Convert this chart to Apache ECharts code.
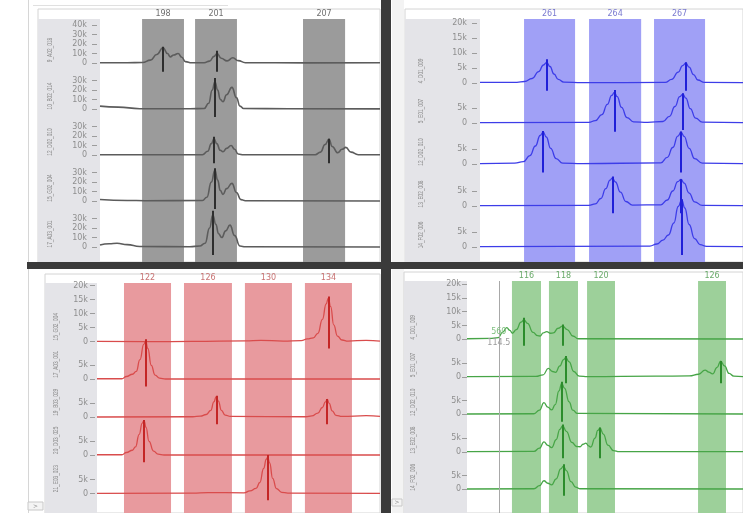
<!DOCTYPE html>
<html><head><meta charset="utf-8">
<script src="https://cdn.jsdelivr.net/npm/echarts@6/dist/echarts.min.js"></script>
<style>html,body{margin:0;padding:0;background:#fff}#c{width:743px;height:513px}</style>
</head><body><div id="c"></div>
<script>
// ---------------- DATA (size in bp, height in k RFU) ----------------
// Top-left panel (gray)
const tlBins = [198, 201, 207];
const tlBinStart = [196.83, 199.79, 205.82];
const tlBinEnd = [199.17, 202.13, 208.17];
const tlSamples = ['9_A02_018', '10_B02_014', '12_D02_010', '15_G02_004', '17_A03_001'];
const tlTicks = [[0,10,20,30,40],[0,10,20,30],[0,10,20,30],[0,10,20,30],[0,10,20,30]];
const tlTrace1 = [[194.48,0.3],[196.0,0.2],[196.85,0.5],[197.3,3],[197.65,9],[198.0,16],[198.25,10],[198.4,6.5],[198.6,8.5],[198.84,10],[199.05,6],[199.25,1.5],[199.6,0.2],[200.3,0.3],[200.6,2],[200.85,7],[201.02,10],[201.25,5],[201.58,2.2],[201.9,5.5],[202.2,2.5],[202.6,0.3],[206,0.1],[210.12,0.2]];
const tlTrace2 = [[194.48,3],[195.5,2],[196.7,0.3],[199.5,0.2],[200.3,0.5],[200.55,6],[200.75,20],[200.9,28.7],[201.05,20],[201.2,10],[201.35,7.7],[201.55,15],[201.85,22.8],[202.1,12],[202.3,3],[202.5,0.5],[205,0.3],[210.12,0.1]];
const tlTrace3 = [[194.48,0.2],[200.2,0.3],[200.5,4],[200.7,12],[200.85,17],[201.0,12],[201.2,5],[201.35,3.5],[201.55,7],[201.8,10],[202.0,6],[202.2,1],[202.5,0.2],[206.5,0.3],[206.8,3],[207.05,11],[207.27,16.5],[207.45,9],[207.76,2.4],[208.0,6],[208.21,8],[208.5,3],[208.9,0.3],[210.12,0.2]];
const tlTrace4 = [[194.48,1.5],[196,0.6],[197,0.3],[200.2,0.5],[200.45,4],[200.7,20],[200.9,32.6],[201.05,22],[201.2,11],[201.35,7],[201.55,13],[201.85,18.6],[202.1,9],[202.35,1.5],[202.6,0.3],[210.12,0]];
const tlTrace5 = [[194.48,2],[195.0,3.5],[195.43,4],[196.0,2.5],[196.7,0.5],[199.5,0.3],[200.05,1],[200.35,4],[200.6,20],[200.78,33.7],[200.95,24],[201.1,14],[201.28,10],[201.5,17],[201.74,23],[202.0,12],[202.3,1],[202.6,0.2],[210.12,0]];
// allele call markers: [size, top, bottom]
const tlCalls1 = [[198.0,17.2,-9.2],[201.02,13,-9.2]];
const tlCalls2 = [[200.9,32.6,-8.4]];
const tlCalls3 = [[200.85,19.3,-8.8],[207.27,17.2,-8.8]];
const tlCalls4 = [[200.9,34.4,-8.4]];
const tlCalls5 = [[200.78,38.2,-8.4]];

// Top-right panel (blue)
const trBins = [261, 264, 267];
const trBinStart = [259.83, 262.81, 265.79];
const trBinEnd = [262.17, 265.2, 268.13];
const trSamples = ['4_D01_009', '5_E01_007', '12_D02_010', '13_E02_008', '14_F02_006'];
const trTicks = [[0,5,10,15,20],[0,5],[0,5],[0,5],[0,5]];
const trTrace1 = [[257.81,0.2],[259.5,0.2],[259.85,0.5],[260.2,1.5],[260.5,3.8],[260.72,6],[260.87,6.9],[261.02,5.5],[261.2,3],[261.4,1.2],[261.65,0.3],[262.5,0.1],[266.3,0.2],[266.6,1.2],[266.9,3.6],[267.1,5.8],[267.25,6.6],[267.4,5.3],[267.6,2.8],[267.8,1],[268.1,0.2],[269.87,0.1]];
const trTrace2 = [[257.81,0.1],[262.8,0.2],[263.1,0.8],[263.4,2.8],[263.65,6.2],[263.85,9.2],[263.97,10.2],[264.1,8.8],[264.3,5.2],[264.55,1.8],[264.85,0.4],[265.5,0.2],[266.2,0.5],[266.5,2.2],[266.75,5.5],[266.97,8.8],[267.11,9.6],[267.25,8.3],[267.45,4.8],[267.7,1.6],[268.0,0.3],[269.87,0.1]];
const trTrace3 = [[257.81,0.1],[259.4,0.3],[259.8,0.8],[260.1,2.8],[260.35,6],[260.57,9.5],[260.71,10.6],[260.85,9],[261.05,5.2],[261.3,1.8],[261.6,0.3],[262.5,0.1],[266.1,0.4],[266.4,2.2],[266.65,5.5],[266.88,9.3],[267.03,10.6],[267.17,9.2],[267.4,5.2],[267.65,1.8],[268.0,0.3],[269.87,0.1]];
const trTrace4 = [[257.81,0.1],[262.8,0.2],[263.1,0.7],[263.35,2.5],[263.58,5.8],[263.77,8.6],[263.88,9.4],[264.02,8],[264.25,4.6],[264.5,1.5],[264.8,0.3],[266.1,0.4],[266.4,2],[266.65,5],[266.88,8.1],[267.03,8.9],[267.17,7.6],[267.4,4.3],[267.65,1.4],[268.0,0.2],[269.87,0.1]];
const trTrace5 = [[257.81,0.1],[265.6,0.3],[265.92,1],[266.2,2.3],[266.45,4],[266.7,8],[266.9,13.5],[267.06,15.7],[267.2,13],[267.4,7.5],[267.65,2.8],[267.9,0.8],[268.2,0.2],[269.87,0.1]];
const trCalls1 = [[260.87,7.9,-2.6],[267.25,6.9,-2.6]];
const trCalls2 = [[263.97,11,-2.9],[267.11,9.9,-2.3]];
const trCalls3 = [[260.71,11,-2.8],[267.03,10.8,-2.8]];
const trCalls4 = [[263.88,9.8,-2.4],[267.03,8.9,-2.4]];
const trCalls5 = [[267.06,15.9,-2.7]];

// Bottom-left panel (red)
const blBins = [122, 126, 130, 134];
const blBinStart = [120.44, 124.42, 128.46, 132.44];
const blBinEnd = [123.56, 127.6, 131.58, 135.56];
const blSamples = ['15_G02_004', '17_A03_001', '19_B03_029', '20_D03_025', '21_E03_023'];
const blTicks = [[0,5,10,15,20],[0,5],[0,5],[0,5],[0,5]];
const blTrace1 = [[118.65,0.1],[122,0],[125,0.1],[128.5,0.3],[129.5,0.5],[131,0.2],[132.2,0.4],[132.6,1],[133.0,1.4],[133.3,3],[133.6,8],[133.85,13.5],[133.99,15.5],[134.15,12.5],[134.35,6],[134.6,2],[134.9,0.6],[135.3,0.2],[136.5,0.5],[137.42,0.2]];
const blTrace2 = [[118.65,0.2],[120.3,0.2],[120.6,1],[121.0,1.8],[121.25,2.8],[121.5,7],[121.75,12.5],[121.88,13.7],[122.02,11],[122.25,5],[122.5,1.5],[122.8,0.4],[123.2,0.1],[137.42,0.1]];
const blTrace3 = [[118.65,0.1],[125.0,0.2],[125.5,0.4],[125.9,1],[126.2,2.5],[126.4,5.5],[126.56,7.4],[126.7,5.8],[126.9,2.5],[127.15,0.8],[127.5,0.3],[132.5,0.2],[132.9,0.5],[133.3,1.5],[133.6,3.5],[133.8,5.5],[133.92,6.4],[134.05,5],[134.25,2.3],[134.5,0.7],[134.9,0.3],[136.5,0.6],[137.42,0.3]];
const blTrace4 = [[118.65,0.2],[120.3,0.2],[120.6,1],[121.0,1.8],[121.2,3],[121.45,7.5],[121.65,11.5],[121.77,12.4],[121.9,10],[122.1,5],[122.4,1.5],[122.7,0.4],[123.1,0.1],[137.42,0.1]];
const blTrace5 = [[118.65,0.1],[125,0.2],[126,0.4],[128.4,0.3],[128.8,1],[129.2,1.9],[129.45,4],[129.7,9],[129.88,12.3],[129.97,13],[130.1,11],[130.3,5.5],[130.55,1.8],[130.9,0.5],[131.3,0.2],[137.42,0.1]];
const blCalls1 = [[133.99,16.1,-2.4]];
const blCalls2 = [[121.88,14.3,-2.6]];
const blCalls3 = [[126.56,7.7,-2.5],[133.92,6.5,-2.5]];
const blCalls4 = [[121.77,12.6,-2.5]];
const blCalls5 = [[129.97,13.8,-2.3]];

// Bottom-right panel (green)
const brBins = [116, 118, 120, 126];
const brBinStart = [115.21, 117.21, 119.27, 125.27];
const brBinEnd = [116.78, 118.78, 120.78, 126.78];
const brSamples = ['4_D01_009', '5_E01_007', '12_D02_010', '13_E02_008', '14_F02_006'];
const brTicks = [[0,5,10,15,20],[0,5],[0,5],[0,5],[0,5]];
const brTrace1 = [[112.78,0.2],[114.0,0.3],[114.47,0.6],[114.7,2.5],[114.93,4.2],[115.1,3.2],[115.23,2.2],[115.45,3.5],[115.7,6.2],[115.86,7],[116.05,5.8],[116.35,2.5],[116.6,1.3],[116.73,1.2],[116.9,2.3],[117.09,2.8],[117.3,2.2],[117.45,2.3],[117.7,4],[117.95,4.8],[118.2,3.5],[118.5,1.2],[118.8,0.2],[127.7,0.1]];
const brTrace2 = [[112.78,0.1],[116.5,0.2],[116.9,0.8],[117.17,3.1],[117.4,2],[117.57,1.7],[117.8,4],[118.0,6.3],[118.12,7],[118.3,5.5],[118.55,2],[118.85,0.3],[119.3,0.1],[123,0.3],[124.8,0.4],[125.3,1.0],[125.65,2.5],[125.85,1.8],[126.06,1.1],[126.3,3.5],[126.49,5.7],[126.7,4],[126.95,1.3],[127.2,0.3],[127.7,0.1]];
const brTrace3 = [[112.78,0.1],[116.4,0.2],[116.7,1.5],[116.94,4.2],[117.15,2.6],[117.36,1.6],[117.55,3.5],[117.75,8.5],[117.9,11.2],[118.05,9.5],[118.3,4.5],[118.5,1.5],[118.75,0.3],[127.7,0.1]];
const brTrace4 = [[112.78,0.1],[116.4,0.2],[116.7,1.4],[116.94,3.7],[117.15,2.4],[117.36,1.6],[117.6,4.5],[117.8,8.2],[117.95,9.5],[118.15,7.5],[118.45,3.5],[118.7,2.0],[118.89,1.9],[119.05,2.8],[119.21,3.2],[119.35,2.2],[119.47,1.8],[119.7,5],[119.85,7.8],[119.97,8.6],[120.15,6.5],[120.4,2.5],[120.7,0.5],[121.0,0.1],[127.7,0.1]];
const brTrace5 = [[112.78,0.1],[116.4,0.2],[116.7,1.3],[116.94,3.1],[117.15,2.2],[117.36,1.6],[117.6,3.8],[117.85,7.4],[117.99,8.4],[118.15,6.8],[118.4,2.8],[118.65,0.8],[118.9,0.2],[127.7,0.1]];
const brCalls1 = [[115.86,7.8,-2.3],[117.95,5.4,-2.3]];
const brCalls2 = [[118.12,7.6,-2.3],[126.49,5.8,-2.3]];
const brCalls3 = [[117.9,11.8,-2.7]];
const brCalls4 = [[117.95,10,-2.3],[119.97,8.9,-2.3]];
const brCalls5 = [[117.99,9.1,-2.3]];
const brCursorSize = 114.5;
const brCursorHeight = '560';

// ---------------- LAYOUT ----------------
const panels = [
  { bins: tlBins, binStart: tlBinStart, binEnd: tlBinEnd, samples: tlSamples, ticks: tlTicks,
    traces: [tlTrace1, tlTrace2, tlTrace3, tlTrace4, tlTrace5],
    calls: [tlCalls1, tlCalls2, tlCalls3, tlCalls4, tlCalls5],
    xMin: 194.48, xMax: 210.12, left: 100, right: 380,
    base: [63, 109, 155, 201, 247], pxK: 0.95, yMin: -10, yMax: [40, 40, 40, 40, 40],
    boxL: 38, boxT: 9, boxR: 380, boxB: 262, headB: 19, nameX: 50, nameOff: 13,
    axOff: 3, lblMargin: 10, lw: 1.6,
    line: '#5c5c5c', call: '#2e2e2e', bin: '#9b9b9b', binTxt: '#6e6e6e' },
  { bins: trBins, binStart: trBinStart, binEnd: trBinEnd, samples: trSamples, ticks: trTicks,
    traces: [trTrace1, trTrace2, trTrace3, trTrace4, trTrace5],
    calls: [trCalls1, trCalls2, trCalls3, trCalls4, trCalls5],
    xMin: 257.81, xMax: 269.87, left: 480, right: 743,
    base: [83, 123, 164, 206, 247], pxK: 3, yMin: -3, yMax: [20, 16, 16, 16, 17],
    boxL: 405, boxT: 9, boxR: 743, boxB: 262, headB: 19, nameX: 421, nameOff: 12,
    axOff: 3, lblMargin: 10, lw: 1.3,
    line: '#3d3de8', call: '#2020d8', bin: '#a0a0f6', binTxt: '#7a7ad0' },
  { bins: blBins, binStart: blBinStart, binEnd: blBinEnd, samples: blSamples, ticks: blTicks,
    traces: [blTrace1, blTrace2, blTrace3, blTrace4, blTrace5],
    calls: [blCalls1, blCalls2, blCalls3, blCalls4, blCalls5],
    xMin: 118.65, xMax: 137.42, left: 97, right: 380,
    base: [341.7, 379.3, 417.3, 455.3, 493.7], pxK: 2.8, yMin: -3, yMax: [20, 16, 16, 16, 16],
    boxL: 45, boxT: 274, boxR: 380, boxB: 513, headB: 283, nameX: 56, nameOff: 15,
    axOff: 2, lblMargin: 7, lw: 1.3,
    line: '#d94c4c', call: '#c42626', bin: '#e89a9e', binTxt: '#c87272' },
  { bins: brBins, binStart: brBinStart, binEnd: brBinEnd, samples: brSamples, ticks: brTicks,
    traces: [brTrace1, brTrace2, brTrace3, brTrace4, brTrace5],
    calls: [brCalls1, brCalls2, brCalls3, brCalls4, brCalls5],
    xMin: 112.78, xMax: 127.7, left: 467, right: 743,
    base: [339.3, 377, 414.3, 452, 489.3], pxK: 2.76, yMin: -3, yMax: [20, 13, 13, 13, 13],
    boxL: 404, boxT: 272, boxR: 743, boxB: 513, headB: 281, nameX: 413, nameOff: 12,
    axOff: 0, lblMargin: 6, lw: 1.3,
    line: '#47a547', call: '#2c8c2c', bin: '#9dd09a', binTxt: '#6aaa6a' }
];

const FONT = 'DejaVu Sans';
const option = { animation: false, backgroundColor: '#ffffff', grid: [], xAxis: [], yAxis: [], series: [], graphic: [] };

// window frame details
option.graphic.push(
  { type: 'rect', shape: { x: 28, y: 0, width: 1, height: 513 }, style: { fill: '#d6d6d6' }, z: -2 },
  { type: 'rect', shape: { x: 33, y: 5, width: 195, height: 1 }, style: { fill: '#e0e0e0' }, z: -2 },
  { type: 'rect', shape: { x: 392, y: 0, width: 12, height: 513 }, style: { fill: '#f3f3f3' }, z: -2 }
);

panels.forEach((p, pi) => {
  option.graphic.push({ type: 'rect', shape: { x: p.boxL, y: p.boxT, width: p.boxR - p.boxL, height: p.boxB - p.boxT },
    style: { fill: '#ffffff', stroke: '#d4d4d4', lineWidth: 1 }, z: -2 });
  option.graphic.push({ type: 'rect', shape: { x: p.boxL, y: p.headB, width: p.left - p.boxL, height: p.boxB - p.headB },
    style: { fill: '#e4e4e8' }, z: -1 });

  const bg = option.grid.length;
  option.grid.push({ left: p.left, top: p.headB, width: p.right - p.left, height: p.boxB - p.headB, containLabel: false, outerBoundsMode: 'none' });
  option.xAxis.push({ gridIndex: bg, type: 'value', min: p.xMin, max: p.xMax, show: false });
  option.yAxis.push({ gridIndex: bg, type: 'value', min: 0, max: 1, show: false });
  const binSeries = {
    type: 'line', xAxisIndex: bg, yAxisIndex: bg, data: [], z: 1, silent: true,
    markArea: {
      silent: true, itemStyle: { color: p.bin, opacity: 1 },
      label: { show: true, position: 'top', distance: 1, color: p.binTxt, fontSize: 8, fontFamily: FONT },
      data: p.bins.map((b, i) => [{ name: String(b), xAxis: p.binStart[i] }, { xAxis: p.binEnd[i] }])
    }
  };
  if (pi === 3) {
    binSeries.markLine = { silent: true, symbol: ['none', 'none'], label: { show: false },
      lineStyle: { color: '#a8a8a8', width: 1, type: 'solid' }, data: [{ xAxis: brCursorSize }] };
  }
  option.series.push(binSeries);

  p.traces.forEach((tr, r) => {
    const gi = option.grid.length;
    const top = p.base[r] - p.yMax[r] * p.pxK;
    option.grid.push({ left: p.left, top: top, width: p.right - p.left, height: (p.yMax[r] - p.yMin) * p.pxK, containLabel: false, outerBoundsMode: 'none' });
    option.xAxis.push({ gridIndex: gi, type: 'value', min: p.xMin, max: p.xMax, show: false });
    option.yAxis.push({
      gridIndex: gi, type: 'value', min: p.yMin, max: p.yMax[r], offset: p.axOff, z: 5,
      axisLine: { show: false }, splitLine: { show: false },
      axisTick: { show: true, length: 5, customValues: p.ticks[r], lineStyle: { color: '#9c9c9c', width: 1 } },
      axisLabel: { customValues: p.ticks[r], formatter: v => (v === 0 ? '0' : v + 'k'), fontSize: 8, color: '#8e8e8e', margin: p.lblMargin, fontFamily: FONT }
    });
    const s = {
      type: 'line', xAxisIndex: gi, yAxisIndex: gi, data: tr, showSymbol: false, symbol: 'none',
      smooth: 0.5, smoothMonotone: 'x', clip: false, z: 3, silent: true,
      lineStyle: { color: p.line, width: p.lw },
      markLine: {
        silent: true, symbol: ['none', 'none'], label: { show: false },
        lineStyle: { color: p.call, width: 2, type: 'solid' },
        data: p.calls[r].map(c => [{ coord: [c[0], c[1]] }, { coord: [c[0], c[2]] }])
      }
    };
    if (pi === 3 && r === 0) {
      s.markPoint = {
        silent: true, symbol: 'circle', symbolSize: 0,
        data: [
          { coord: [brCursorSize, 2.6], value: brCursorHeight, label: { color: '#7fbf7f' } },
          { coord: [brCursorSize, -1.3], value: String(brCursorSize), label: { color: '#9a9a9a' } }
        ],
        label: { show: true, position: 'inside', formatter: d => d.value, fontSize: 8, fontFamily: FONT }
      };
    }
    option.series.push(s);
    option.graphic.push({ type: 'text', x: p.nameX, y: p.base[r] - p.nameOff, rotation: Math.PI / 2, scaleX: 0.68, z: 6,
      style: { text: p.samples[r], fontSize: 7, fill: '#8a8a8a', align: 'center', verticalAlign: 'middle', fontFamily: 'Liberation Sans' } });
  });
});

option.graphic.push(
  { type: 'rect', shape: { x: 381, y: 0, width: 10, height: 513 }, style: { fill: '#3a3a3a' }, z: 100 },
  { type: 'rect', shape: { x: 27, y: 262, width: 716, height: 7 }, style: { fill: '#3a3a3a' }, z: 100 },
  { type: 'rect', shape: { x: 28, y: 502, width: 15, height: 8 }, style: { fill: '#f4f4f4', stroke: '#c8c8c8', lineWidth: 1 }, z: 100 },
  { type: 'text', x: 35.5, y: 506, z: 101, style: { text: '>', fontSize: 6, fill: '#888', align: 'center', verticalAlign: 'middle', fontFamily: FONT } },
  { type: 'rect', shape: { x: 392, y: 499, width: 10, height: 7 }, style: { fill: '#f4f4f4', stroke: '#c8c8c8', lineWidth: 1 }, z: 100 },
  { type: 'text', x: 397, y: 502.5, z: 101, style: { text: '>', fontSize: 6, fill: '#888', align: 'center', verticalAlign: 'middle', fontFamily: FONT } }
);

const chart = echarts.init(document.getElementById('c'), null, { renderer: 'canvas' });
chart.setOption(option);
</script>
</body></html>
